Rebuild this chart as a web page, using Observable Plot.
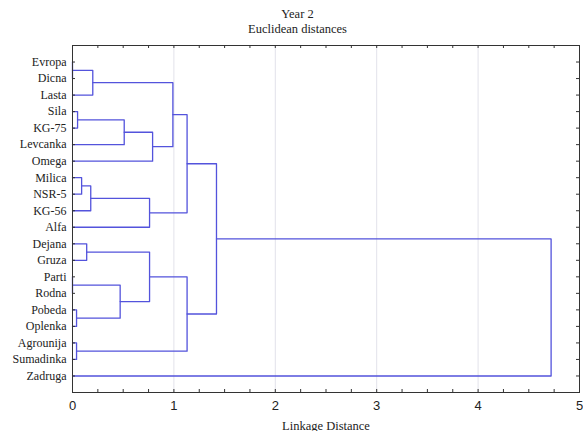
<!DOCTYPE html>
<html><head><meta charset="utf-8">
<script src="https://cdn.jsdelivr.net/npm/d3@7"></script>
<script src="https://cdn.jsdelivr.net/npm/@observablehq/plot@0.6"></script>
<style>
body{margin:0;background:#fff;width:583px;height:431px;overflow:hidden}
#title{height:36px;box-sizing:border-box;padding-top:7px;padding-left:12px;text-align:center;font-family:"Liberation Serif","Times New Roman",serif;font-size:12.5px;line-height:15px;color:#222}
svg{display:block}
</style></head><body>
<div id="title"><div>Year 2</div><div>Euclidean distances</div></div>
<div id="chart"></div>
<script>
// Leaves, top to bottom
const leaves = ["Evropa","Dicna","Lasta","Sila","KG-75","Levcanka","Omega","Milica","NSR-5","KG-56","Alfa","Dejana","Gruza","Parti","Rodna","Pobeda","Oplenka","Agrounija","Sumadinka","Zadruga"];
// Merge steps: node ids 0..19 are leaves, merge k creates node 20+k
const mergeLeft   = [0, 13, 15, 17, 3, 7, 11, 25, 20, 21, 24, 27, 26, 30, 28, 34, 32, 35, 37];
const mergeRight  = [1, 14, 16, 18, 4, 8, 12, 9, 2, 22, 5, 10, 29, 6, 33, 31, 23, 36, 19];
const mergeHeight = [0.00, 0.00, 0.04, 0.04, 0.05, 0.09, 0.14, 0.18, 0.20, 0.47, 0.51, 0.76, 0.76, 0.79, 0.99, 1.13, 1.13, 1.42, 4.72];
const xTickValues = [0, 1, 2, 3, 4, 5];
const gridValues = [1, 2, 3, 4];
const minorTickStep = 0.25;
const xAxisLabel = "Linkage Distance";

const n = leaves.length;
const nodeX = leaves.map(() => 0);
const nodeY = leaves.map((_, i) => i);
const paths = [];
mergeHeight.forEach((h, k) => {
  const a = mergeLeft[k], b = mergeRight[k];
  paths.push({id: k, x: nodeX[a], y: nodeY[a]}, {id: k, x: h, y: nodeY[a]},
             {id: k, x: h, y: nodeY[b]}, {id: k, x: nodeX[b], y: nodeY[b]});
  nodeX.push(h);
  nodeY.push((nodeY[a] + nodeY[b]) / 2);
});

const W = 583, H = 395, mL = 72, mR = 4, mT = 9, mB = 39;
const fw = W - mL - mR, fh = H - mT - mB, tk = 3;
const minorX = d3.range(0, 5 + 1e-9, minorTickStep);
const rows = d3.range(n);
const axisColor = "#333";

const chart = Plot.plot({
  width: W, height: H,
  marginLeft: mL, marginRight: mR, marginTop: mT, marginBottom: mB,
  style: {color: "#222", background: "#fff"},
  x: {domain: [0, 5]},
  y: {domain: [-1, n], reverse: true},
  marks: [
    Plot.ruleX(gridValues, {stroke: "#e2e2ea", strokeWidth: 1}),
    Plot.line(paths, {x: "x", y: "y", z: "id", stroke: "#5353dc", strokeWidth: 1.3}),
    Plot.frame({stroke: axisColor}),
    Plot.tickX(minorX, {x: d => d, insetBottom: fh - tk, stroke: axisColor}),
    Plot.tickX(minorX, {x: d => d, insetTop: fh - tk, stroke: axisColor}),
    Plot.tickY(rows, {y: d => d, insetRight: fw - tk, stroke: axisColor}),
    Plot.tickY(rows, {y: d => d, insetLeft: fw - tk, stroke: axisColor}),
    Plot.axisX(xTickValues, {tickSize: 0, tickPadding: 8, fontFamily: "Liberation Sans, Arial, sans-serif", fontSize: 13, label: null}),
    Plot.axisY(rows, {tickSize: 0, tickPadding: 6, tickFormat: i => leaves[i], fontFamily: "Liberation Serif, Times New Roman, serif", fontSize: 12, label: null}),
    Plot.text([xAxisLabel], {text: d => d, frameAnchor: "bottom", dy: 37, fontFamily: "Liberation Serif, Times New Roman, serif", fontSize: 12.5})
  ]
});
document.getElementById("chart").appendChild(chart);
</script>
</body></html>
